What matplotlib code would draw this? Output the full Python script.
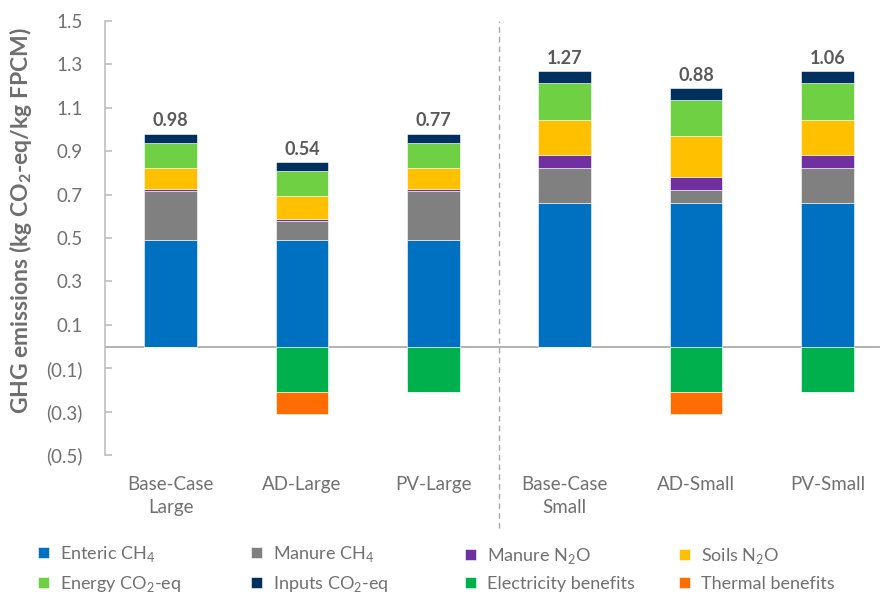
import matplotlib.pyplot as plt
import numpy as np
from matplotlib.ticker import FuncFormatter

plt.rcParams['font.family'] = ['Lato', 'DejaVu Sans']
plt.rcParams['mathtext.fontset'] = 'custom'
plt.rcParams['mathtext.rm'] = 'Lato'
plt.rcParams['mathtext.bf'] = 'Lato:bold'

# scenarios
scenarios = ['Base-Case\nLarge', 'AD-Large', 'PV-Large', 'Base-Case\nSmall', 'AD-Small', 'PV-Small']

# emission sources (kg CO2-eq / kg FPCM)
enteric_ch4 = [0.490, 0.490, 0.490, 0.660, 0.660, 0.660]
manure_ch4  = [0.225, 0.087, 0.225, 0.163, 0.060, 0.163]
manure_n2o  = [0.012, 0.012, 0.012, 0.060, 0.060, 0.060]
soils_n2o   = [0.097, 0.103, 0.097, 0.163, 0.188, 0.163]
energy_co2  = [0.116, 0.117, 0.116, 0.170, 0.169, 0.170]
inputs_co2  = [0.041, 0.041, 0.041, 0.054, 0.054, 0.054]

# credits (negative)
electricity = [0.0, -0.210, -0.210, 0.0, -0.208, -0.208]
thermal     = [0.0, -0.100, 0.0, 0.0, -0.103, 0.0]

pos_series = [
    (enteric_ch4, 'Enteric CH$_4$', '#0070C0'),
    (manure_ch4, 'Manure CH$_4$', '#808080'),
    (manure_n2o, 'Manure N$_2$O', '#7030A0'),
    (soils_n2o, 'Soils N$_2$O', '#FFC000'),
    (energy_co2, 'Energy CO$_2$-eq', '#70D044'),
    (inputs_co2, 'Inputs CO$_2$-eq', '#00305E'),
]
neg_series = [
    (electricity, 'Electricity benefits', '#00B04C'),
    (thermal, 'Thermal benefits', '#FF6D00'),
]

txt = '#707070'
fig = plt.figure(figsize=(8.83, 5.94), dpi=100)
ax = fig.add_axes([0.1189, 0.234, 0.8777, 0.7306])

x = np.arange(len(scenarios))
w = 0.40
handles = {}
bottom = np.zeros(len(x))
for vals, lab, col in pos_series:
    v = np.array(vals)
    b = ax.bar(x, v, w, bottom=bottom, color=col, edgecolor='white', linewidth=0.4, label=lab)
    handles[lab] = b
    bottom += v
top = bottom.copy()

bottom = np.zeros(len(x))
for vals, lab, col in neg_series:
    v = np.array(vals)
    b = ax.bar(x, v, w, bottom=bottom, color=col, edgecolor='white', linewidth=0.4, label=lab)
    handles[lab] = b
    bottom += v

net = top + bottom
for xi, t, n in zip(x, top, net):
    ax.annotate(f'{n:.2f}', (xi, t), xytext=(0, 3), textcoords='offset points',
                ha='center', va='bottom', fontsize=13, fontweight='bold', color='#595959')

# zero line and separator between large and small farms
ax.axhline(0, color='#A6A6A6', lw=1.2, zorder=0.5)
ax.plot([2.5, 2.5], [-0.835, 1.5], ls=(0, (4, 3)), color='#A6A6A6', lw=1, clip_on=False)

ax.set_xlim(-0.5, 5.4)
ax.set_ylim(-0.5, 1.5)
ax.set_yticks(np.arange(-0.5, 1.51, 0.2))
ax.yaxis.set_major_formatter(FuncFormatter(lambda v, p: f'({abs(v):.1f})' if v < -1e-9 else f'{v:.1f}'))
ax.set_xticks(x)
ax.set_xticklabels(scenarios, linespacing=1.45)

for s in ['top', 'right', 'bottom']:
    ax.spines[s].set_visible(False)
ax.spines['left'].set_color('#BFBFBF')
ax.spines['left'].set_linewidth(1.2)
ax.tick_params(axis='y', direction='in', length=5, width=1.2, color='#BFBFBF',
               labelsize=13.5, labelcolor=txt, pad=16)
ax.tick_params(axis='x', length=0, labelsize=13.5, labelcolor=txt, pad=15)

ax.set_ylabel('GHG emissions (kg CO$_\\mathbf{2}$-eq/kg FPCM)', fontsize=16.5,
              fontweight='bold', color='#6E6E6E')
ax.yaxis.set_label_coords(-0.092, 0.54)

# legend: four columns, two rows
cols = [
    ('Enteric CH$_4$', 'Energy CO$_2$-eq'),
    ('Manure CH$_4$', 'Inputs CO$_2$-eq'),
    ('Manure N$_2$O', 'Electricity benefits'),
    ('Soils N$_2$O', 'Thermal benefits'),
]
col_x = [38, 251, 465, 679]
for cx, labs in zip(col_x, cols):
    fig.legend([handles[l] for l in labs], labs, loc='center left',
               bbox_to_anchor=(cx / 883, 1 - 569 / 594), frameon=False,
               fontsize=13, labelcolor=txt, handlelength=0.6, handleheight=0.6,
               handletextpad=0.6, labelspacing=0.55, borderpad=0, borderaxespad=0)

fig.savefig('out.png', dpi=100)
